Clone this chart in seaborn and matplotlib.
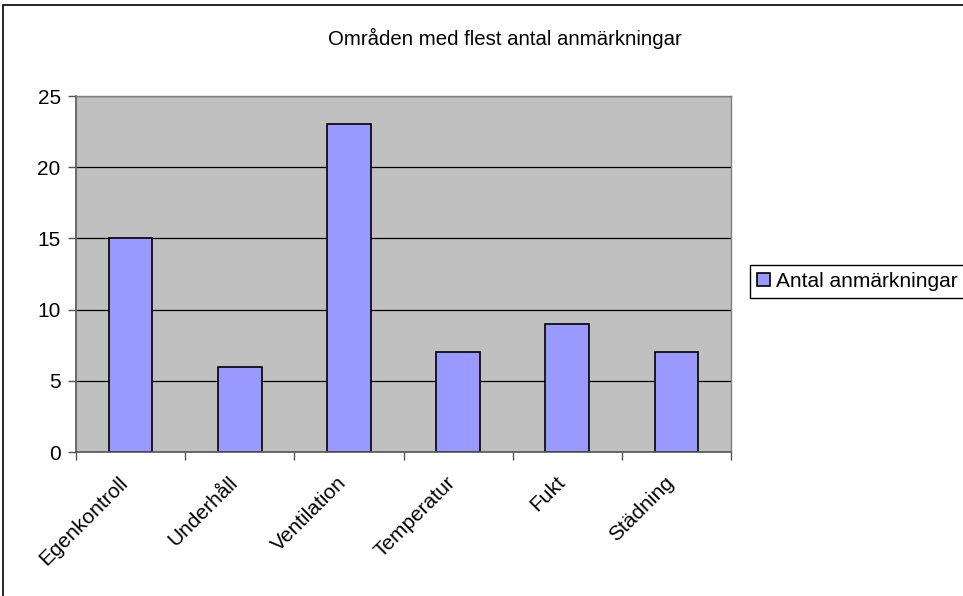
import matplotlib
matplotlib.use("Agg")
import matplotlib.pyplot as plt
import matplotlib.patches as mpatches
import matplotlib.transforms as mtransforms
import pandas as pd
import seaborn as sns

# Data
categories = ["Egenkontroll", "Underhåll", "Ventilation", "Temperatur", "Fukt", "Städning"]
counts = [15, 6, 23, 7, 9, 7]
series_name = "Antal anmärkningar"
y_ticks = [0, 5, 10, 15, 20, 25]

sns.set_theme(style="white")
plt.rcParams["font.family"] = ["Liberation Sans", "DejaVu Sans"]
plt.rcParams["text.color"] = "black"
plt.rcParams["xtick.labelcolor"] = "black"
plt.rcParams["ytick.labelcolor"] = "black"

df = pd.DataFrame({"omrade": categories, "antal": counts})

fig = plt.figure(figsize=(9.63, 5.96), dpi=100)
ax = fig.add_axes([76 / 963, 1 - 452 / 596, (731 - 76) / 963, (452 - 96) / 596])

ax.set_facecolor("#C0C0C0")
ax.set_axisbelow(True)
ax.yaxis.grid(True, color="black", linewidth=0.9)

sns.barplot(
    data=df, x="omrade", y="antal", color="#9999FF", saturation=1,
    edgecolor="black", linewidth=1.2, width=0.4, ax=ax, label=series_name,
)
handles, labels = ax.get_legend_handles_labels()
if ax.get_legend() is not None:
    ax.get_legend().remove()

ax.set_xlim(-0.5, len(categories) - 0.5)
ax.set_ylim(0, 25)
ax.set_yticks(y_ticks)
ax.set_xlabel("")
ax.set_ylabel("")

# tick marks at category boundaries, labels at centers
ax.set_xticks([i - 0.5 for i in range(len(categories) + 1)], minor=True)
ax.set_xticks(range(len(categories)))
ax.set_xticklabels(categories, rotation=45, ha="right", rotation_mode="anchor")
ax.tick_params(axis="x", which="major", length=0, pad=15, labelsize=15, labelcolor="black")
ax.tick_params(axis="x", which="minor", length=6, width=1, color="#555555", direction="out", bottom=True)
ax.tick_params(axis="y", length=6, width=1, color="#555555", direction="out", left=True,
               labelsize=15, pad=5, labelcolor="black")

# Excel puts the rotated labels a bit left of the category centre
shift = mtransforms.ScaledTranslation(-0.12, 0, fig.dpi_scale_trans)
for lbl in ax.get_xticklabels():
    lbl.set_transform(lbl.get_transform() + shift)

for side in ["top", "right"]:
    ax.spines[side].set_color("#808080")
    ax.spines[side].set_linewidth(1)
ax.spines["left"].set_color("#555555")
ax.spines["bottom"].set_color("#555555")
ax.spines["left"].set_linewidth(1.2)
ax.spines["bottom"].set_linewidth(1.2)

fig.text(505 / 963, 1 - 38 / 596, "Områden med flest antal anmärkningar",
         ha="center", va="center", fontsize=14.7, color="black")

leg = fig.legend(
    handles, labels, loc="center left", bbox_to_anchor=(750 / 963, 1 - 281.5 / 596),
    fontsize=15, frameon=True, fancybox=False, edgecolor="black", framealpha=1,
    handlelength=0.6, handleheight=0.6, handletextpad=0.3, borderpad=0.35, borderaxespad=0,
    labelcolor="black",
)
leg.get_frame().set_linewidth(1)

# outer chart border (cut off at right and bottom in the reference)
fig.patches.append(mpatches.Rectangle(
    (3 / 963, -0.05), 1.05, 1 - 5 / 596 + 0.05, transform=fig.transFigure,
    fill=False, edgecolor="black", linewidth=1.2, clip_on=False,
))

fig.savefig("out.png", dpi=100)
